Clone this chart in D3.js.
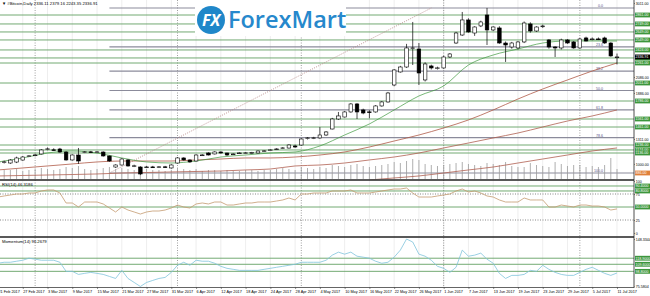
<!DOCTYPE html>
<html>
<head>
<meta charset="utf-8">
<script src="https://cdn.jsdelivr.net/npm/d3@7"></script>
<style>
  body { margin: 0; background: #fff; }
  svg { display: block; font-family: "Liberation Sans", Arial, sans-serif; }
  .tiny { font-size: 4.2px; }
  .axt { font-size: 3.6px; }
  .dat { font-size: 3.8px; }
</style>
</head>
<body>
<svg id="chart"></svg>
<script>
// ---- data (Bitcoin daily, weekday bars 21 Feb - 11 Jul 2017) ----
const tickLabels = ["21 Feb 2017", "27 Feb 2017", "3 Mar 2017", "9 Mar 2017", "15 Mar 2017", "21 Mar 2017",
  "27 Mar 2017", "31 Mar 2017", "6 Apr 2017", "12 Apr 2017", "18 Apr 2017", "24 Apr 2017", "28 Apr 2017",
  "4 May 2017", "10 May 2017", "16 May 2017", "22 May 2017", "26 May 2017", "1 Jun 2017", "7 Jun 2017",
  "13 Jun 2017", "19 Jun 2017", "23 Jun 2017", "29 Jun 2017", "5 Jul 2017", "11 Jul 2017"];

const opens = [1011,1020,1011,1023,1048,1095,1105,1124,1180,1176,
  1186,1148,1049,1111,1145,1150,1146,1148,1099,961,
  986,1049,974,961,958,962,960,963,949,1011,
  1074,1049,1036,1108,1136,1124,1149,1136,1122,1134,
  1136,1137,1136,1160,1170,1184,1197,1198,1224,1236,
  1320,1322,1324,1361,1436,1561,1586,1649,1749,1674,
  1650,1649,1724,1774,1986,2149,2211,2440,2436,2049,
  2224,2195,2199,2336,2511,2611,2799,2636,2724,2861,
  2674,2699,2511,2461,2449,2524,2749,2661,2720,2549,
  2461,2449,2549,2524,2449,2574,2560,2562,2574,2511,
  2336.11];
const highs = [1036,1040,1060,1090,1098,1110,1125,1185,1205,1195,
  1200,1160,1120,1199,1160,1162,1160,1158,1105,995,
  1070,1060,990,968,975,975,972,975,995,1085,
  1082,1055,1120,1122,1145,1158,1155,1140,1132,1145,
  1147,1150,1168,1172,1182,1195,1210,1245,1240,1320,
  1335,1338,1460,1410,1575,1649,1660,1760,1760,1690,
  1670,1735,1785,1900,2185,2225,2500,2774,2511,2270,
  2240,2215,2350,2385,2650,2899,2820,2720,2790,2949,
  2720,2720,2530,2525,2535,2780,2770,2720,2740,2560,
  2470,2565,2560,2535,2575,2590,2580,2580,2590,2520,
  2379.16];
const lows = [1000,1005,1000,1010,1040,1085,1095,1118,1170,1165,
  1140,1040,1040,1000,1135,1138,1135,1090,1025,950,
  980,965,960,860,948,950,948,950,940,1005,
  1040,1015,1030,1100,1105,1118,1130,1100,1112,1125,
  1128,1128,1130,1150,1162,1175,1190,1192,1200,1230,
  1305,1310,1315,1350,1430,1550,1580,1640,1561,1620,
  1570,1640,1715,1765,1970,2140,2200,2236,1986,2030,
  2180,2180,2190,2325,2500,2600,2640,2600,2710,2486,
  2660,2500,2274,2440,2430,2510,2640,2650,2700,2440,
  2336,2430,2500,2440,2440,2530,2545,2548,2500,2340,
  2243.35];
const closes = [1023,1025,1048,1074,1086,1100,1112,1174,1188,1172,
  1148,1049,1111,1036,1150,1146,1150,1099,1036,986,
  1061,974,976,874,962,960,963,961,986,1074,
  1049,1024,1111,1112,1111,1149,1136,1111,1124,1137,
  1138,1140,1161,1163,1175,1187,1200,1236,1211,1311,
  1325,1326,1361,1399,1561,1599,1649,1749,1649,1636,
  1648,1724,1774,1886,2174,2211,2449,2450,2136,2249,
  2199,2200,2336,2374,2636,2799,2649,2711,2774,2674,
  2711,2511,2486,2511,2524,2761,2661,2711,2724,2461,
  2449,2549,2511,2449,2561,2536,2562,2560,2511,2349,
  2336.91];
const volumes = [8,9,9,10,8,9,10,11,10,9,10,
  12,11,13,10,9,10,11,12,10,11,10,9,13,10,9,9,8,9,
  11,10,9,10,8,9,9,8,9,8,8,9,9,8,9,9,10,11,10,9,
  12,11,10,12,11,14,13,12,14,15,13,12,13,14,15,17,16,18,20,19,15,14,13,
  14,15,16,17,15,14,13,16,15,14,17,13,12,12,16,14,13,12,17,15,13,14,14,12,13,12,14,21,10];

// moving averages read every 4th bar (same bars as the date labels)
const maFast = [1024,1074,1136,1161,1136,1074,1024,1011,1036,1086,1111,1136,1149,1224,1361,1499,1674,1849,1974,2236,2361,2436,2511,2536,2536,2536];
const maMid = [924,949,974,999,1024,1036,1036,1036,1049,1061,1074,1074,1086,1111,1149,1211,1286,1361,1449,1549,1674,1811,1936,2049,2161,2261];
const maSlow = [849,855,861,867,874,886,892,899,905,911,924,936,974,986,1011,1049,1086,1136,1199,1261,1324,1386,1461,1536,1599,1674];
const maLong = [null,null,null,null,null,null,null,null,null,null,null,null,null,null,null,799,824,849,886,924,961,1011,1061,1111,1161,1199];

const rsiValues = [69.2,71.2,73.1,75.0,75.0,76.9,76.9,80.8,82.7,82.7,
  76.9,57.7,57.7,50.0,59.6,59.6,59.6,55.8,48.1,40.4,
  50.0,44.2,40.4,36.5,40.4,42.3,42.3,44.2,48.1,53.8,
  50.0,48.1,55.8,57.7,55.8,59.6,59.6,53.8,53.8,55.8,
  57.7,57.7,59.6,59.6,59.6,61.5,63.5,67.3,63.5,75.0,
  75.0,76.9,76.9,76.9,80.8,80.8,80.8,82.7,76.9,76.9,
  76.9,78.8,80.8,82.7,84.6,84.6,86.5,76.9,69.2,69.2,
  69.2,71.2,73.1,75.0,80.8,84.6,78.8,80.8,76.9,71.2,
  69.2,63.5,59.6,59.6,59.6,67.3,63.5,63.5,63.5,50.0,
  50.0,53.8,51.9,50.0,53.8,53.8,51.9,51.9,50.0,44.2,
  46.3186];
const momentumValues = [111.2,112.7,112.7,114.3,115.8,118.9,117.4,115.8,115.8,115.8,
  112.7,98.8,98.8,94.1,95.7,97.2,95.7,94.1,91.0,87.9,
  100.3,87.9,81.8,75.6,81.8,84.9,87.9,89.5,97.2,108.1,
  112.7,108.1,115.8,114.3,114.3,111.2,106.5,103.4,101.9,100.3,
  100.3,100.3,100.3,101.9,103.4,105.0,106.5,108.1,109.6,112.7,
  112.7,112.7,112.7,115.8,123.6,128.2,125.1,128.2,122.0,120.5,
  118.9,114.3,111.2,112.7,120.5,131.3,148.3,143.7,125.1,122.0,
  115.8,106.5,103.4,97.2,105.0,131.3,122.0,123.6,126.7,117.4,
  111.2,95.7,87.9,92.6,92.6,94.1,100.3,98.8,108.1,101.9,
  97.2,94.1,92.6,92.6,97.2,101.9,105.0,100.3,95.7,92.6,
  96.2679];

// drawn objects
const priceLevels = [2861, 2749, 2649, 2549, 2424, 2324, 2261, 2011, 1786, 1561, 1461, 1236, 1174, 1136];
const priceTicks = [3011, 2086, 1886, 1311, 1000];
const rsiLevels = [90.4, 80.8, 50.0];
const rsiTicks = [100, 75, 25, 0];
const momLevels = [118.9, 109.6, 98.8];
const fibRatios = [0, 23.6, 38.2, 50.0, 61.8, 78.6, 100.0];
const fibHigh = 2948.5, fibLow = 886, fibFrom = 18, fibTo = 70;
const monthStarts = [6, 29, 49, 72, 94];
const lastPrice = 2336.91;

// ---- layout ----
const W = 650, H = 296;
const plotRight = 634;
const mainBottom = 179.5, rsiTop = 180.5, rsiBottom = 236.5, momTop = 237.5, momBottom = 287.5;

const svg = d3.select("#chart").attr("width", W).attr("height", H);
svg.append("rect").attr("width", W).attr("height", H).attr("fill", "#fff");

const x = d3.scaleLinear().domain([0, 100]).range([-2, 617]);
const y = d3.scaleLinear().domain([798.5, 3048.5]).range([180, 0]);
const yVol = d3.scaleLinear().domain([0, 25]).range([179, 154]);
const yRsi = d3.scaleLinear().domain([0, 100]).range([233, 181]);
const yMom = d3.scaleLinear().domain([75.5804, 148.3344]).range([286.5, 239]);

const tickIdx = tickLabels.map((d, i) => i * 4);

const defs = svg.append("defs");
function clip(id, y0, y1) {
  defs.append("clipPath").attr("id", id).append("rect")
    .attr("x", 0).attr("y", y0).attr("width", plotRight).attr("height", y1 - y0);
}
clip("cMain", 0, mainBottom);
clip("cRsi", rsiTop, rsiBottom);
clip("cMom", momTop, momBottom);

const gAll = svg.append("g");

// vertical grid + month separators across all panels
gAll.selectAll(".vgrid").data(tickIdx).enter().append("line")
  .attr("x1", d => x(d)).attr("x2", d => x(d)).attr("y1", 0).attr("y2", momBottom)
  .attr("stroke", "#e3e3e3").attr("stroke-width", 0.6);
gAll.selectAll(".sep").data(monthStarts).enter().append("line")
  .attr("x1", d => x(d)).attr("x2", d => x(d)).attr("y1", 0).attr("y2", momBottom)
  .attr("stroke", "#777").attr("stroke-width", 0.7).attr("stroke-dasharray", "1,1.5");

// ---- main panel ----
const gMain = svg.append("g").attr("clip-path", "url(#cMain)");

gMain.selectAll(".lvl").data(priceLevels).enter().append("line")
  .attr("x1", 0).attr("x2", plotRight).attr("y1", d => y(d)).attr("y2", d => y(d))
  .attr("stroke", "#62a062").attr("stroke-width", 0.9);

const fibPrice = r => fibHigh - (fibHigh - fibLow) * r / 100;
gMain.selectAll(".fib").data(fibRatios).enter().append("line")
  .attr("x1", x(fibFrom)).attr("x2", plotRight)
  .attr("y1", d => y(fibPrice(d))).attr("y2", d => y(fibPrice(d)))
  .attr("stroke", "#8b8b9b").attr("stroke-width", 1.2);
gMain.selectAll(".fibtxt").data(fibRatios).enter().append("text")
  .attr("class", "axt").attr("x", 603).attr("y", d => y(fibPrice(d)) - 1)
  .attr("text-anchor", "end").attr("fill", "#555588")
  .text(d => d.toFixed(1));
gMain.append("line")
  .attr("x1", x(fibFrom)).attr("y1", y(fibLow)).attr("x2", x(fibTo)).attr("y2", y(fibHigh))
  .attr("stroke", "#b88a8a").attr("stroke-width", 0.9).attr("stroke-dasharray", "1,1.3");

// volumes
gMain.selectAll(".vol").data(volumes).enter().append("line")
  .attr("x1", (d, i) => x(i)).attr("x2", (d, i) => x(i))
  .attr("y1", yVol(0)).attr("y2", d => yVol(d))
  .attr("stroke", "#9a9a9a").attr("stroke-width", 0.8);

// moving averages
function maLine(values, color, w) {
  const pts = values.map((v, i) => [tickIdx[i], v]);
  gMain.append("path").datum(pts)
    .attr("d", d3.line().defined(d => d[1] != null).x(d => x(d[0])).y(d => y(d[1])).curve(d3.curveMonotoneX))
    .attr("fill", "none").attr("stroke", color).attr("stroke-width", w);
}
maLine(maLong, "#b06050", 0.8);
maLine(maSlow, "#b06050", 0.8);
maLine(maMid, "#b05a48", 0.8);
maLine(maFast, "#3f9a3f", 0.7);

// candles
const bars = closes.map((c, i) => ({ i, o: opens[i], h: highs[i], l: lows[i], c }));
const candle = gMain.selectAll(".c").data(bars).enter().append("g");
candle.append("line")
  .attr("x1", d => x(d.i)).attr("x2", d => x(d.i))
  .attr("y1", d => y(d.h)).attr("y2", d => y(d.l))
  .attr("stroke", "#000").attr("stroke-width", 0.7);
candle.append("rect")
  .attr("x", d => x(d.i) - 1.8).attr("width", 3.6)
  .attr("y", d => y(Math.max(d.o, d.c)))
  .attr("height", d => Math.max(0.8, Math.abs(y(d.o) - y(d.c))))
  .attr("fill", d => d.c >= d.o ? "#fff" : "#000")
  .attr("stroke", "#000").attr("stroke-width", 0.6);

// logo
const logo = svg.append("g");
logo.append("rect").attr("x", 195).attr("y", 0).attr("width", 151).attr("height", 36).attr("fill", "#fff");
logo.append("circle").attr("cx", 211).attr("cy", 20).attr("r", 14).attr("fill", "#1f87c9");
logo.append("text").attr("x", 211).attr("y", 26).attr("text-anchor", "middle")
  .attr("fill", "#fff").attr("font-size", 16).attr("font-weight", "bold").attr("font-style", "italic")
  .attr("font-family", "'Open Sans', sans-serif").text("FX");
logo.append("text").attr("x", 228).attr("y", 28)
  .attr("fill", "#2688cc").attr("font-size", 23.5).attr("font-weight", 600)
  .attr("font-family", "'Open Sans', sans-serif").text("ForexMart");

// header
svg.append("text").attr("class", "tiny").attr("x", 2).attr("y", 5).attr("fill", "#000")
  .text("\u25BC  #Bitcoin,Daily  2336.11 2379.16 2243.35 2336.91");

// ---- RSI panel ----
const gRsi = svg.append("g").attr("clip-path", "url(#cRsi)");
gRsi.selectAll(".rl").data(rsiLevels).enter().append("line")
  .attr("x1", 0).attr("x2", plotRight).attr("y1", d => yRsi(d)).attr("y2", d => yRsi(d))
  .attr("stroke", "#62a062").attr("stroke-width", 0.9);
gRsi.selectAll(".rd").data([75, 25]).enter().append("line")
  .attr("x1", 0).attr("x2", plotRight).attr("y1", d => yRsi(d)).attr("y2", d => yRsi(d))
  .attr("stroke", "#555").attr("stroke-width", 0.7).attr("stroke-dasharray", "1,1.5");
gRsi.append("path").datum(rsiValues)
  .attr("d", d3.line().x((d, i) => x(i)).y(d => yRsi(d)))
  .attr("fill", "none").attr("stroke", "#c49a70").attr("stroke-width", 0.8);
svg.append("text").attr("class", "tiny").attr("x", 2).attr("y", 186).text("RSI(14) 46.3186");

// ---- Momentum panel ----
const gMom = svg.append("g").attr("clip-path", "url(#cMom)");
gMom.selectAll(".ml").data(momLevels).enter().append("line")
  .attr("x1", 0).attr("x2", plotRight).attr("y1", d => yMom(d)).attr("y2", d => yMom(d))
  .attr("stroke", "#62a062").attr("stroke-width", 0.9);
gMom.append("path").datum(momentumValues)
  .attr("d", d3.line().x((d, i) => x(i)).y(d => yMom(d)))
  .attr("fill", "none").attr("stroke", "#80c4dc").attr("stroke-width", 0.8);
svg.append("text").attr("class", "tiny").attr("x", 2).attr("y", 242.5).text("Momentum(14) 96.2679");

// panel borders
svg.selectAll(".pb").data([mainBottom + 0.5, rsiBottom + 0.5, momBottom]).enter().append("line")
  .attr("x1", 0).attr("x2", plotRight).attr("y1", d => d).attr("y2", d => d)
  .attr("stroke", "#222").attr("stroke-width", d => d === momBottom ? 0.7 : 1.3);

// ---- right axis ----
svg.append("rect").attr("x", plotRight).attr("y", 0).attr("width", W - plotRight).attr("height", H).attr("fill", "#fff");
svg.append("line").attr("x1", plotRight).attr("x2", plotRight).attr("y1", 0).attr("y2", momBottom)
  .attr("stroke", "#222").attr("stroke-width", 0.8);

function styleAxis(g) {
  g.select(".domain").remove();
  g.selectAll("text").attr("class", "axt").attr("fill", "#000");
  g.selectAll("line").attr("stroke", "#222").attr("stroke-width", 0.5);
}
svg.append("g").attr("transform", `translate(${plotRight},0)`)
  .call(d3.axisRight(y).tickValues(priceTicks).tickFormat(d3.format(".2f")).tickSize(1).tickPadding(0.8))
  .call(styleAxis);
svg.append("g").attr("transform", `translate(${plotRight},0)`)
  .call(d3.axisRight(yRsi).tickValues(rsiTicks).tickFormat(d3.format("d")).tickSize(1).tickPadding(0.8))
  .call(styleAxis);
svg.append("g").attr("transform", `translate(${plotRight},0)`)
  .call(d3.axisRight(yMom).tickValues(yMom.domain()).tickFormat(d3.format(".4f")).tickSize(1).tickPadding(0.8))
  .call(styleAxis);

function boxLabel(yy, txt, bg) {
  const g = svg.append("g");
  g.append("rect").attr("x", plotRight + 1).attr("y", yy - 2.4).attr("width", 15).attr("height", 4.8).attr("fill", bg);
  g.append("text").attr("class", "axt").attr("x", plotRight + 1.5).attr("y", yy + 1.3)
    .attr("fill", "#fff").text(txt);
}
priceLevels.forEach(v => boxLabel(y(v), v.toFixed(2), "#3c963c"));
boxLabel(y(fibLow), fibLow.toFixed(2), "#e0803a");
boxLabel(y(lastPrice), lastPrice.toFixed(2), "#000");
rsiLevels.forEach(v => boxLabel(yRsi(v), v.toFixed(4), "#3c963c"));
momLevels.forEach(v => boxLabel(yMom(v), v.toFixed(4), "#3c963c"));

// ---- date axis ----
const gx = svg.append("g").attr("transform", `translate(0,${momBottom})`)
  .call(d3.axisBottom(x).tickValues(tickIdx).tickFormat((d, i) => tickLabels[i]).tickSize(1.5).tickPadding(1.5));
gx.select(".domain").remove();
gx.selectAll("text").attr("class", "dat").attr("text-anchor", "start").attr("fill", "#000");
gx.selectAll("line").attr("stroke", "#222").attr("stroke-width", 0.5);
</script>
</body>
</html>
